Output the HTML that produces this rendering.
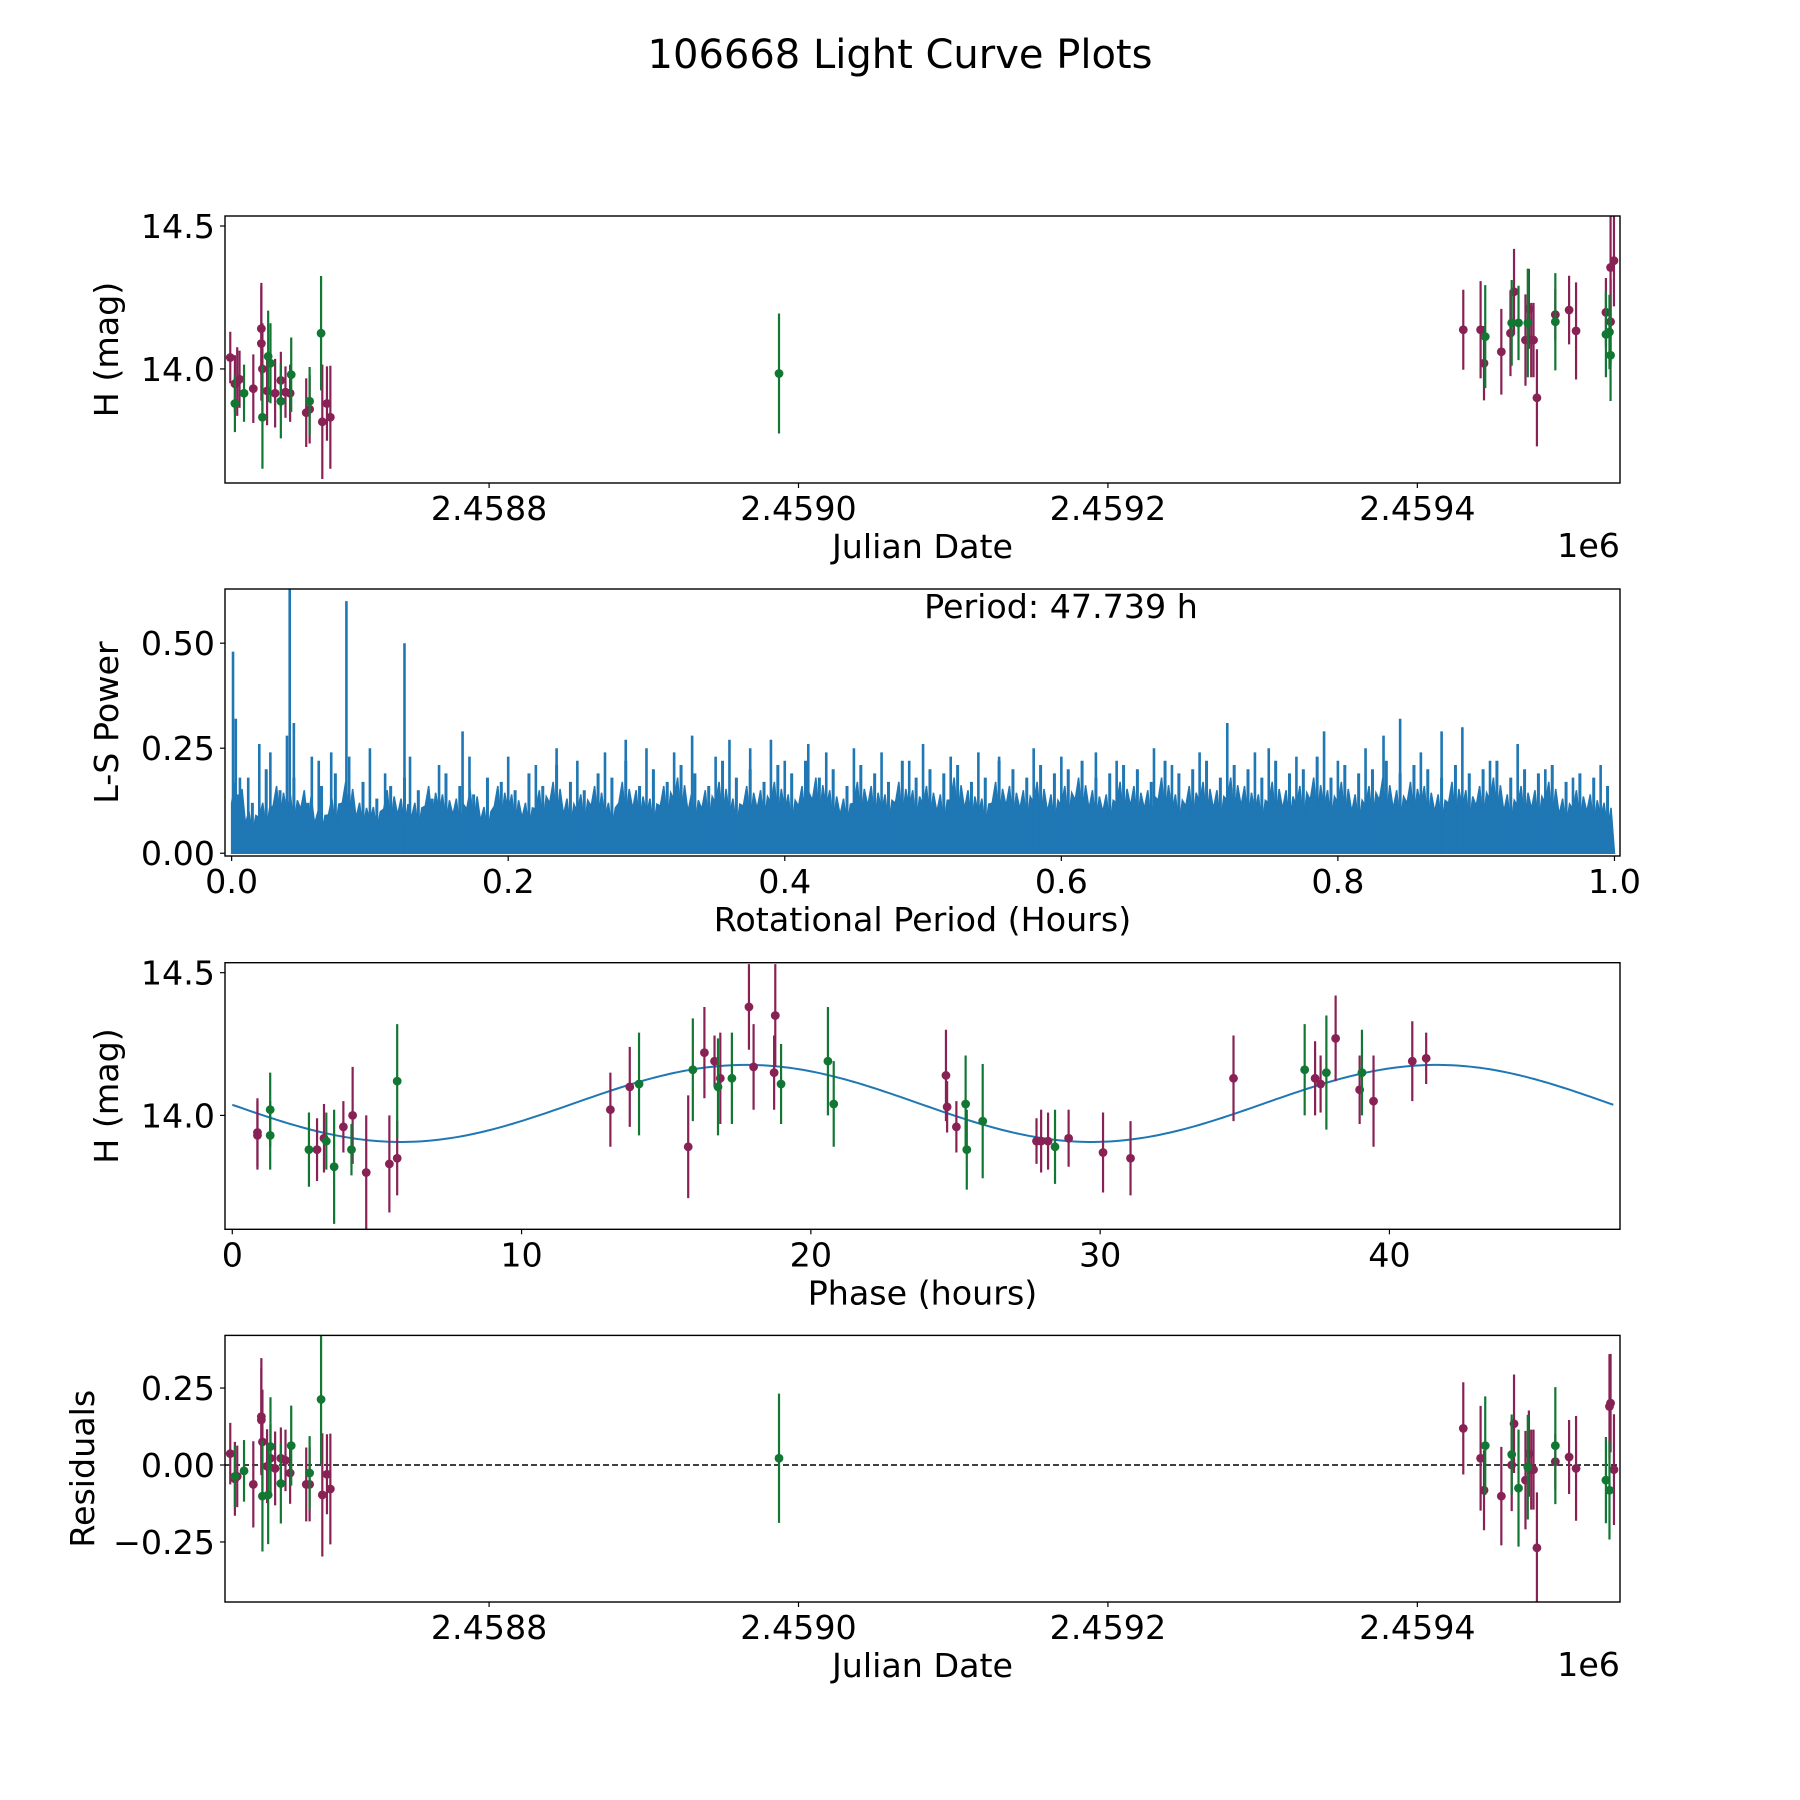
<!DOCTYPE html>
<html><head><meta charset="utf-8"><style>
html,body{margin:0;padding:0;background:#fff;}
svg{display:block;font-family:"DejaVu Sans","Liberation Sans",sans-serif;}
</style></head><body>
<svg id="fig" width="1800" height="1800" viewBox="0 0 1800 1800" xmlns="http://www.w3.org/2000/svg">
<rect width="1800" height="1800" fill="#fff"/>
<text x="900" y="68" font-size="40" text-anchor="middle">106668 Light Curve Plots</text>
<g id="g1"></g>
<g id="g2"></g>
<g id="g3"></g>
<g id="g4"></g>
</svg>
<script>
// ---- Panel 1 data: Julian date, magnitude, error, filter (0=maroon,1=green)
const lcJD = [2458632.7,2458635.7,2458637.2,2458638.7,2458647.6,2458652.8,2458652.8,2458653.5,2458656.5,2458661.7,2458665.4,2458668.4,2458671.4,2458681.8,2458684.0,2458692.2,2458695.2,2458697.4,
 2458635.7,2458641.6,2458653.5,2458657.2,2458658.7,2458665.4,2458672.1,2458684.0,2458691.4,
 2458987.4,
 2459429.7,2459440.9,2459443.1,2459454.3,2459460.2,2459462.5,2459469.9,2459472.1,2459473.6,2459475.1,2459477.3,2459489.2,2459498.1,2459502.6,2459521.9,2459524.9,2459527.1,2459524.9,
 2459443.9,2459461.0,2459465.4,2459471.4,2459489.2,2459521.9,2459524.2,2459524.9];
const lcMag = [14.040,13.948,13.956,13.964,13.931,14.141,14.089,14.000,13.923,13.915,13.960,13.919,13.915,13.847,13.859,13.815,13.879,13.831,
 13.879,13.915,13.831,14.044,14.020,13.887,13.980,13.887,14.125,
 13.984,
 14.137,14.137,14.020,14.060,14.125,14.270,14.101,14.210,14.101,14.101,13.899,14.190,14.206,14.133,14.198,14.355,14.379,14.165,
 14.113,14.161,14.161,14.161,14.165,14.121,14.129,14.048];
const lcErr = [0.09,0.10,0.12,0.10,0.12,0.16,0.20,0.16,0.12,0.12,0.10,0.09,0.10,0.12,0.12,0.20,0.13,0.18,
 0.10,0.10,0.18,0.16,0.14,0.13,0.13,0.12,0.20,
 0.21,
 0.14,0.17,0.13,0.15,0.15,0.15,0.16,0.14,0.13,0.13,0.17,0.09,0.12,0.17,0.12,0.20,0.16,0.15,
 0.18,0.15,0.13,0.19,0.17,0.15,0.13,0.16];
const lcFilt = [0,0,0,0,0,0,0,0,0,0,0,0,0,0,0,0,0,0, 1,1,1,1,1,1,1,1,1, 1,
 0,0,0,0,0,0,0,0,0,0,0,0,0,0,0,0,0,0, 1,1,1,1,1,1,1,1];

// ---- Panel 2 data: periodogram
const lsEnvelope = [0.17,0.10,0.12,0.16,0.14,0.15,0.10,0.13,0.17,0.12,0.11,0.15,0.13,0.12,0.16,0.14,0.13,0.15,0.11,0.16,
 0.14,0.12,0.15,0.17,0.13,0.14,0.16,0.12,0.17,0.15,0.13,0.16,0.18,0.14,0.15,0.17,0.13,0.16,0.15,0.17,
 0.14,0.16,0.18,0.15,0.13,0.17,0.16,0.14,0.17,0.15,0.16,0.14,0.18,0.15,0.13,0.17,0.16,0.15,0.17,0.14,
 0.16,0.18,0.15,0.14,0.17,0.16,0.15,0.18,0.14,0.16,0.17,0.15,0.18,0.16,0.14,0.17,0.15,0.16,0.18,0.15,
 0.17,0.14,0.16,0.18,0.15,0.17,0.16,0.14,0.17,0.15,0.16,0.18,0.14,0.16,0.15,0.17,0.13,0.15,0.14,0.12];
const lsMidH = [0.14,0.12,0.20,0.15,0.18,0.12,0.16,0.19,0.14,0.17,0.13,0.16,0.18,0.15,0.13,0.19,0.16,0.14,0.18,0.17,
 0.15,0.19,0.16,0.21,0.17,0.15,0.19,0.18,0.22,0.16,0.20,0.17,0.21,0.19,0.16,0.22,0.18,0.20,0.17,0.21,
 0.19,0.22,0.18,0.20,0.16,0.21,0.19,0.17,0.22,0.18,0.20,0.19,0.21,0.17,0.18,0.22,0.20,0.18,0.21,0.19,
 0.20,0.22,0.18,0.19,0.21,0.20,0.17,0.22,0.19,0.20,0.22,0.18,0.21,0.20,0.18,0.22,0.19,0.20,0.23,0.18,
 0.21,0.19,0.20,0.22,0.19,0.21,0.20,0.18,0.21,0.19,0.20,0.22,0.18,0.20,0.19,0.21,0.17,0.19,0.18,0.16];
const lsSpikeX = [0.001,0.003,0.006,0.012,0.020,0.028,0.040,0.042,0.045,0.058,0.063,0.072,0.083,0.085,0.100,0.111,0.125,0.129,0.150,0.167,0.172,0.200,0.220,0.235,0.250,0.270,0.285,0.300,0.320,0.333,0.350,0.360,0.375,0.390,0.400,0.417,0.430,0.450,0.470,0.490,0.500,0.520,0.540,0.555,0.580,0.600,0.625,0.640,0.667,0.680,0.700,0.720,0.740,0.750,0.770,0.790,0.800,0.820,0.833,0.845,0.860,0.875,0.890,0.910,0.930,0.950,0.970,0.990];
const lsSpikeH = [0.48,0.32,0.18,0.18,0.26,0.24,0.28,0.63,0.31,0.23,0.22,0.24,0.60,0.23,0.25,0.19,0.50,0.23,0.21,0.29,0.23,0.23,0.21,0.25,0.22,0.24,0.27,0.25,0.24,0.28,0.23,0.27,0.25,0.27,0.22,0.26,0.24,0.25,0.24,0.22,0.26,0.23,0.24,0.23,0.25,0.23,0.24,0.22,0.25,0.21,0.24,0.31,0.24,0.25,0.23,0.29,0.22,0.25,0.28,0.32,0.24,0.29,0.30,0.22,0.26,0.20,0.18,0.21];
const lsXTicks = [0.0,0.2,0.4,0.6,0.8,1.0];
const lsYTicks = [0.00,0.25,0.50];

// ---- Panel 3 data: phase (h), magnitude, error, filter
const phPhase = [0.87,0.87,2.93,3.17,3.84,4.16,4.63,5.43,5.70,13.07,13.74,15.76,16.32,16.67,16.87,17.86,18.02,18.73,18.77,24.67,24.71,25.03,27.80,27.96,28.20,28.91,30.10,31.05,34.61,37.43,37.62,38.14,38.97,39.45,40.79,41.27,
 1.31,1.31,2.65,3.25,3.52,4.12,5.70,14.06,15.92,16.79,17.27,18.97,20.59,20.79,25.35,25.39,25.94,28.44,37.07,37.82,39.05];
const phMag = [13.94,13.93,13.88,13.92,13.96,14.00,13.80,13.83,13.85,14.02,14.10,13.89,14.22,14.19,14.13,14.38,14.17,14.15,14.35,14.14,14.03,13.96,13.91,13.91,13.91,13.92,13.87,13.85,14.13,14.13,14.11,14.27,14.09,14.05,14.19,14.20,
 14.02,13.93,13.88,13.91,13.82,13.88,14.12,14.11,14.16,14.10,14.13,14.11,14.19,14.04,14.04,13.88,13.98,13.89,14.16,14.15,14.15];
const phErr = [0.12,0.12,0.11,0.12,0.09,0.17,0.20,0.17,0.13,0.13,0.14,0.18,0.16,0.09,0.16,0.15,0.15,0.13,0.18,0.16,0.09,0.09,0.08,0.11,0.10,0.10,0.14,0.13,0.15,0.13,0.10,0.15,0.12,0.16,0.14,0.09,
 0.13,0.12,0.13,0.10,0.20,0.09,0.20,0.18,0.18,0.17,0.16,0.14,0.19,0.15,0.17,0.14,0.20,0.13,0.16,0.20,0.15];
const phFilt = [0,0,0,0,0,0,0,0,0,0,0,0,0,0,0,0,0,0,0,0,0,0,0,0,0,0,0,0,0,0,0,0,0,0,0,0, 1,1,1,1,1,1,1,1,1,1,1,1,1,1,1,1,1,1,1,1,1];
const fitParams = [14.042, 0.135, 23.87, 41.64]; // mean, amplitude, period (h), phase of maximum
const phXTicks = [0,10,20,30,40];
const magYTicks = [14.0,14.5];

// ---- Panel 4 data: residuals
const resJD = [2458632.7,2458635.7,2458637.2,2458647.6,2458652.8,2458652.8,2458653.5,2458656.5,2458661.7,2458665.4,2458668.4,2458671.4,2458681.8,2458684.0,2458692.2,2458695.2,2458697.4,2458658.7,
 2458635.7,2458641.6,2458653.5,2458657.2,2458658.7,2458665.4,2458672.1,2458684.0,2458691.4,
 2458987.4,
 2459429.7,2459440.9,2459443.1,2459454.3,2459461.0,2459462.5,2459469.9,2459472.1,2459473.6,2459475.1,2459477.3,2459489.2,2459498.1,2459502.6,2459524.2,2459524.9,2459527.1,
 2459443.9,2459461.0,2459465.4,2459471.4,2459489.2,2459521.9,2459524.2,2459524.9];
const resVal = [0.037,-0.045,-0.037,-0.063,0.146,0.157,0.075,-0.004,-0.011,0.022,0.015,-0.026,-0.063,-0.063,-0.097,-0.030,-0.078,0.022,
 -0.037,-0.019,-0.101,-0.097,0.060,-0.060,0.063,-0.026,0.213,
 0.022,
 0.119,0.022,-0.082,-0.101,0.000,0.134,-0.049,0.037,-0.015,-0.015,-0.269,0.011,0.026,-0.011,0.190,0.201,
 -0.015,0.063,0.034,-0.075,-0.007,0.063,-0.049,-0.082];
const resErr = [0.10,0.12,0.10,0.14,0.17,0.19,0.17,0.12,0.12,0.10,0.10,0.10,0.12,0.12,0.20,0.13,0.18,0.11,
 0.10,0.10,0.18,0.16,0.16,0.13,0.13,0.12,0.21,
 0.21,
 0.15,0.17,0.13,0.16,0.15,0.16,0.16,0.14,0.13,0.13,0.18,0.09,0.12,0.17,0.17,0.16,
 0.18,0.16,0.13,0.19,0.17,0.19,0.14,0.16];
const resFilt = [0,0,0,0,0,0,0,0,0,0,0,0,0,0,0,0,0,0, 1,1,1,1,1,1,1,1,1, 1, 0,0,0,0,0,0,0,0,0,0,0,0,0,0,0,0,0, 1,1,1,1,1,1,1,1];
const jdTicks = [2458800,2459000,2459200,2459400];
const jdTickLabels = ["2.4588","2.4590","2.4592","2.4594"];
const resYTicks = [0.25,0.00,-0.25];

const NS = "http://www.w3.org/2000/svg";
const COLORS = ["#882255","#117733"];
const L = 225, R = 1620, FS = 33.3;
function mk(tag, attrs, parent){ const e=document.createElementNS(NS,tag); for(const k in attrs) e.setAttribute(k,attrs[k]); parent.appendChild(e); return e; }
function lin(d0,d1,r0,r1){ return v => r0 + (v-d0)/(d1-d0)*(r1-r0); }
function fmtMinus(s){ return s.replace("-","\u2212"); }

function frame(g, top, bot, xs, ys, xt, xtl, yt, ytl, xlabel, ylabel, ylabX){
  const f = mk("rect",{x:L,y:top,width:R-L,height:bot-top,fill:"none",stroke:"#000","stroke-width":1.4},g);
  
  
  xt.forEach((v,i)=>{
    const x = xs(v);
    const t = mk("line",{x1:x,x2:x,y1:bot,y2:bot+5,stroke:"#000","stroke-width":1.2},g);
    
    
    const tx = mk("text",{x:x,y:bot+37,"font-size":FS,"text-anchor":"middle"},g);
    tx.textContent = xtl[i];
    
    
  });
  yt.forEach((v,i)=>{
    const y = ys(v);
    const t = mk("line",{x1:L-5,x2:L,y1:y,y2:y,stroke:"#000","stroke-width":1.2},g);
    
    
    const tx = mk("text",{x:L-10,y:y+12,"font-size":FS,"text-anchor":"end"},g);
    tx.textContent = ytl[i];
    
    
  });
  const xl = mk("text",{x:(L+R)/2,y:bot+75,"font-size":FS,"text-anchor":"middle"},g);
  xl.textContent = xlabel;
  
  
  const yc = (top+bot)/2;
  const yl = mk("text",{x:ylabX,y:yc,"font-size":FS,"text-anchor":"middle",transform:`rotate(-90 ${ylabX} ${yc})`},g);
  yl.textContent = ylabel;
  
  
}
function offsetText(g, bot){
  const o = mk("text",{x:R,y:bot+74,"font-size":FS,"text-anchor":"end"},g);
  o.textContent = "1e6";
  
  
}
function errPoints(g, xs, ys, X, Y, E, F){
  for(let i=0;i<X.length;i++){
    const x=xs(X[i]), c=COLORS[F[i]];
    const b = mk("line",{x1:x,x2:x,y1:ys(Y[i]-E[i]),y2:ys(Y[i]+E[i]),stroke:c,"stroke-width":2.2},g);
    
    
    const p = mk("circle",{cx:x,cy:ys(Y[i]),r:4.4,fill:c},g);
    
    
  }
}
function clip(id, top, bot){
  const defs = mk("defs",{},document.getElementById("fig"));
  const cp = mk("clipPath",{id:id},defs);
  mk("rect",{x:L,y:top,width:R-L,height:bot-top},cp);
}

// Panel 1
(function(){
  const g=document.getElementById("g1"), top=216, bot=483;
  const xs=lin(2458629.3,2459531,L,R), ys=lin(14.535,13.601,top,bot);
  clip("c1",top,bot);
  const d=mk("g",{"clip-path":"url(#c1)"},g);
  errPoints(d,xs,ys,lcJD,lcMag,lcErr,lcFilt);
  frame(g,top,bot,xs,ys,jdTicks,jdTickLabels,magYTicks,magYTicks.map(v=>v.toFixed(1)),"Julian Date","H (mag)",118);
  offsetText(g,bot);
})();

// Panel 2
(function(){
  const g=document.getElementById("g2"), top=589, bot=856;
  const xs=lin(-0.0048,1.004,L,R), ys=lin(0.629,-0.0066,top,bot);
  clip("c2",top,bot);
  const d=mk("g",{"clip-path":"url(#c2)"},g);
  const n=lsEnvelope.length;
  let pts=[[xs(0),ys(0)]];
  for(let i=0;i<n;i++){
    const x0=i/n, x1=(i+1)/n, q=(x1-x0)/4;
    pts.push([xs(x0),ys(lsEnvelope[i]*0.7)]);
    pts.push([xs(x0+q),ys(lsEnvelope[i])]);
    pts.push([xs(x0+2*q),ys(lsEnvelope[i]*0.45)]);
    pts.push([xs(x0+3*q),ys(lsEnvelope[i]*0.9)]);
  }
  pts.push([xs(1),ys(0)]);
  const poly=mk("polygon",{points:pts.map(p=>p.join(",")).join(" "),fill:"#1f77b4",stroke:"#1f77b4","stroke-width":1.5},d);
  
  
  for(let i=0;i<lsMidH.length;i++){
    const x=xs((i+0.5)/lsMidH.length);
    const s=mk("line",{x1:x,x2:x,y1:ys(0),y2:ys(lsMidH[i]),stroke:"#1f77b4","stroke-width":3},d);
    
    
  }
  for(let i=0;i<lsSpikeX.length;i++){
    const x=xs(lsSpikeX[i]);
    const s=mk("line",{x1:x,x2:x,y1:ys(0),y2:ys(lsSpikeH[i]),stroke:"#1f77b4","stroke-width":2.6},d);
    
    
  }
  frame(g,top,bot,xs,ys,lsXTicks,lsXTicks.map(v=>v.toFixed(1)),lsYTicks,lsYTicks.map(v=>v.toFixed(2)),"Rotational Period (Hours)","L-S Power",118);
  const pt=mk("text",{x:1061,y:618,"font-size":FS,"text-anchor":"middle"},g);
  pt.textContent="Period: 47.739 h";
  
  
})();

// Panel 3
(function(){
  const g=document.getElementById("g3"), top=962.7, bot=1229.3;
  const xs=lin(-0.252,47.97,L,R), ys=lin(14.535,13.601,top,bot);
  clip("c3",top,bot);
  const d=mk("g",{"clip-path":"url(#c3)"},g);
  const [m,a,P,pmax]=fitParams, pts=[];
  for(let i=0;i<=300;i++){ const p=47.739*i/300; pts.push(xs(p)+","+ys(m+a*Math.cos(2*Math.PI*(p-pmax)/P))); }
  const c=mk("polyline",{points:pts.join(" "),fill:"none",stroke:"#1f77b4","stroke-width":2},d);
  
  
  errPoints(d,xs,ys,phPhase,phMag,phErr,phFilt);
  frame(g,top,bot,xs,ys,phXTicks,phXTicks.map(String),magYTicks,magYTicks.map(v=>v.toFixed(1)),"Phase (hours)","H (mag)",118);
})();

// Panel 4
(function(){
  const g=document.getElementById("g4"), top=1335.4, bot=1602;
  const xs=lin(2458629.3,2459531,L,R), ys=lin(0.421,-0.445,top,bot);
  clip("c4",top,bot);
  const d=mk("g",{"clip-path":"url(#c4)"},g);
  const z=mk("line",{x1:L,x2:R,y1:ys(0),y2:ys(0),stroke:"#000","stroke-width":1.6,"stroke-dasharray":"6,3"},d);
  
  
  errPoints(d,xs,ys,resJD,resVal,resErr,resFilt);
  frame(g,top,bot,xs,ys,jdTicks,jdTickLabels,resYTicks,resYTicks.map(v=>fmtMinus(v.toFixed(2))),"Julian Date","Residuals",94);
  offsetText(g,bot);
})();
</script>
</body></html>
